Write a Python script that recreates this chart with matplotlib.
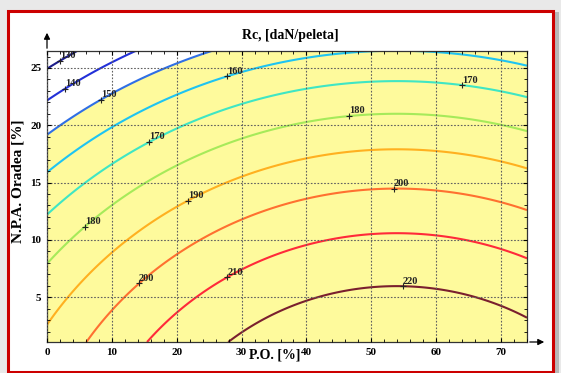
import matplotlib.pyplot as plt
import matplotlib.patches as patches
import numpy as np

# response surface Rc = b0 + b1*x + b2*y + b11*x^2 + b22*y^2
b0 = 193.9
b1 = 1.336
b2 = -1.379
b11 = -0.01239
b22 = -0.0475

levels = [130, 140, 150, 160, 170, 180, 190, 200, 210, 220]
line_colors = ['#1c1c8a', '#2230d8', '#2f6fe6', '#1ec4f2', '#3fe6c4',
               '#a6ea5a', '#ffb020', '#ff7030', '#ff2a3a', '#7a1f2e']

# contour labels: level and P.O. position
label_levels = [130, 140, 150, 160, 170, 170, 180, 180, 190, 200, 200, 210, 220]
label_x = [2.0, 2.8, 8.3, 27.8, 15.8, 64.0, 46.6, 5.85, 21.7, 14.2, 53.5, 27.8, 54.9]

x_ticks = [0, 10, 20, 30, 40, 50, 60, 70]
y_ticks = [5, 10, 15, 20, 25]


def rc(x, y):
    return b0 + b1 * x + b2 * y + b11 * x ** 2 + b22 * y ** 2


def y_on_level(x, lev):
    c = b0 + b1 * x + b11 * x ** 2 - lev
    return (-b2 - np.sqrt(b2 ** 2 - 4 * b22 * c)) / (2 * b22)


plt.rcParams['font.family'] = 'serif'
plt.rcParams['font.serif'] = ['Liberation Serif', 'DejaVu Serif']
plt.rcParams['font.weight'] = 'bold'

fig = plt.figure(figsize=(5.61, 3.73), dpi=100, facecolor='#e9e9e9')

# framed panel with shadow
fig.patches.append(patches.Rectangle((11 / 561, 0), 548 / 561, 1 - 12 / 373,
                                     transform=fig.transFigure, facecolor='#b8b8b8',
                                     edgecolor='none', zorder=-2))
fig.patches.append(patches.Rectangle((8 / 561, 1 / 373), 545 / 561, 1 - 12 / 373,
                                     transform=fig.transFigure, facecolor='white',
                                     edgecolor='#cc0000', linewidth=2.2, zorder=-1))

ax = fig.add_axes([47 / 561, 1 - 342 / 373, 480 / 561, 291 / 373])
ax.set_facecolor('white')

xx = np.linspace(0, 74, 300)
yy = np.linspace(1.09, 26.48, 300)
X, Y = np.meshgrid(xx, yy)
Z = rc(X, Y)

# yellow above 150, white below
ax.contourf(X, Y, Z, levels=[150, 300], colors=['#fefa9c'], zorder=0)
ax.contour(X, Y, Z, levels=levels, colors=line_colors, linewidths=1.5, zorder=2)

for lev, lx in zip(label_levels, label_x):
    ly = y_on_level(lx, lev)
    ax.plot(lx, ly, marker='+', color='#222222', markersize=5, mew=0.8, zorder=4)
    ax.text(lx, ly + 0.05, str(lev), fontsize=7.5, color='#222222',
            ha='left', va='bottom', zorder=4, clip_on=True)

ax.set_xlim(0, 74)
ax.set_ylim(1.09, 26.48)
ax.set_xticks(x_ticks)
ax.set_yticks(y_ticks)
ax.set_xticks(np.arange(0, 75, 2), minor=True)
ax.set_yticks(np.arange(2, 27, 1), minor=True)
ax.tick_params(which='both', direction='in', top=True, right=True, labelsize=8)
ax.tick_params(which='major', length=3, width=0.8, pad=4)
ax.tick_params(which='minor', length=2, width=0.6)
ax.grid(True, which='major', linestyle=(0, (1.5, 1.5)), color='#606060', linewidth=0.8)
ax.set_axisbelow(False)
for s in ax.spines.values():
    s.set_linewidth(0.9)
    s.set_color('#333333')

# axis arrows
ax.annotate('', xy=(500 / 480, 0), xytext=(1, 0), xycoords='axes fraction',
            arrowprops=dict(arrowstyle='-|>', color='black', lw=0.9, mutation_scale=9),
            annotation_clip=False)
ax.annotate('', xy=(0, 1 + 21 / 291), xytext=(0, 1), xycoords='axes fraction',
            arrowprops=dict(arrowstyle='-|>', color='black', lw=0.9, mutation_scale=9),
            annotation_clip=False)

fig.text(290 / 561, 1 - 36 / 373, 'Rc, [daN/peleta]', fontsize=10, fontweight='bold',
         ha='center', va='center')
fig.text(275 / 561, 1 - 355 / 373, 'P.O. [%]', fontsize=10, fontweight='bold',
         ha='center', va='center')
fig.text(18 / 561, 1 - 181 / 373, 'N.P.A. Oradea [%]', fontsize=11, fontweight='bold',
         ha='center', va='center', rotation=90)

fig.savefig('out.png', dpi=100, facecolor=fig.get_facecolor())
